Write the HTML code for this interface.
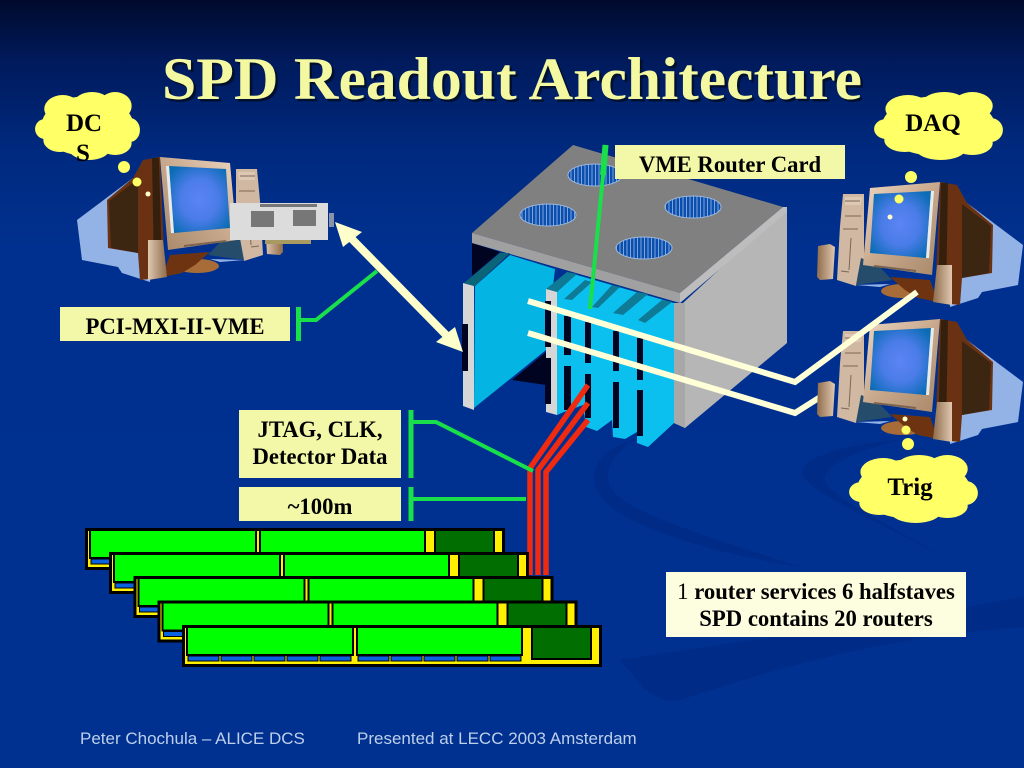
<!DOCTYPE html>
<html><head><meta charset="utf-8"><style>
html,body{margin:0;padding:0;background:#00308f}
svg{display:block}
.l{font-family:"Liberation Serif",serif;font-weight:bold;font-size:22.7px;fill:#000;text-anchor:middle}
.c{font-family:"Liberation Serif",serif;font-weight:bold;font-size:25px;fill:#000;text-anchor:middle}
.f{font-family:"Liberation Sans",sans-serif;font-size:17px;fill:#bcd0ea}
</style></head><body>
<svg width="1024" height="768" viewBox="0 0 1024 768" xmlns="http://www.w3.org/2000/svg">
<defs>
<linearGradient id="bg" x1="0" y1="0" x2="0" y2="1"><stop offset="0" stop-color="#000a2c"/><stop offset=".08" stop-color="#001a5c"/><stop offset=".2" stop-color="#002a80"/><stop offset=".32" stop-color="#00308f"/><stop offset="1" stop-color="#003090"/></linearGradient>
<radialGradient id="scr" cx=".5" cy=".5" r=".62"><stop offset="0" stop-color="#5c84f4"/><stop offset=".5" stop-color="#4a7ce8"/><stop offset="1" stop-color="#0a6cb4"/></radialGradient>
<linearGradient id="bez" x1="0" y1="0" x2="1" y2="1"><stop offset="0" stop-color="#ecd6c0"/><stop offset=".5" stop-color="#c8a88c"/><stop offset="1" stop-color="#a88868"/></linearGradient>
<linearGradient id="spk" x1="0" y1="0" x2="1" y2="0"><stop offset="0" stop-color="#8f6c4c"/><stop offset="1" stop-color="#e0c8b0"/></linearGradient>
<pattern id="st" width="3.5" height="4" patternUnits="userSpaceOnUse"><rect width="3.5" height="4" fill="#0a4fb0"/><rect width="1" height="4" fill="#7fa4d8"/></pattern>
<g id="mon">
<path d="M967 203L1023 245L1018 285L982 292L978 298L950 307L945 240Z" fill="#93b2e6"/>
<path d="M940 182L957 185L967 203L993 225L992 273L962 278L960 305L935 302Z" fill="#6a3213"/>
<path d="M941 183L948 183L946 300L938 300Z" fill="#35200e"/>
<path d="M962 204L991 226L989 273L962 278Z" fill="#3c2612"/>
<ellipse cx="903" cy="291" rx="22" ry="7" fill="#a86c38"/>
<path d="M890 277L930 280L938 302L918 298L905 290Z" fill="#6e3412"/>
<path d="M843 194L864 194L864 260L856 286L837 280L840 226Z" fill="#d0b8a2"/>
<path d="M845 197L862 197L861 205L845 205Z" fill="#dcc8b4"/>
<path d="M845 201L860 201M845 216L861 216M843 229L858 229M849 270L851 238M841 271L849 272" stroke="#7c6854" stroke-width="1" fill="none"/>
<path d="M861 258L878 265L892 280L856 285Z" fill="#264c6c"/>
<path d="M856 285L890 284L880 287Z" fill="#93b2e6"/>
<path d="M870 188L940 182L932 275L863 265Z" fill="url(#bez)"/>
<path d="M874 194L931 191L926 258L870 253Z" fill="url(#scr)"/>
<path d="M931 191L934 191L929 258L926 258Z" fill="#e6ecee"/>
<path d="M874 266L916 271" stroke="#7c6450" stroke-width="2" fill="none"/>
<path d="M818 246L830 244L835 247L833 279L820 280L817 277Z" fill="url(#spk)"/>
<path d="M937 265L952 265L952 305L933 302Z" fill="url(#spk)"/>
</g>
<g id="cl" fill="#ffff66">
<ellipse cx="0" cy="0" rx="50" ry="30"/><ellipse cx="-46" cy="3" rx="11" ry="10"/><ellipse cx="46" cy="4" rx="11" ry="12"/><ellipse cx="-27" cy="-17" rx="20" ry="14"/><ellipse cx="5" cy="-22" rx="20" ry="12"/><ellipse cx="30" cy="-20" rx="18" ry="14"/><ellipse cx="-30" cy="14" rx="18" ry="12"/><ellipse cx="2" cy="23" rx="22" ry="11"/><ellipse cx="30" cy="17" rx="18" ry="12"/>
</g>
<g id="stave">
<rect x="1.500" y="1.500" width="417" height="39" fill="#ffef00" stroke="#000" stroke-width="3"/>
<rect x="5" y="2" width="166" height="28" fill="#00ff00" stroke="#000" stroke-width="2"/>
<rect x="175" y="2" width="165" height="28" fill="#00ff00" stroke="#000" stroke-width="2"/>
<rect x="350" y="2" width="59" height="32" fill="#006e00" stroke="#000" stroke-width="2"/>
<g fill="#0a62e0" stroke="#000" stroke-width="1"><rect x="6" y="31" width="31" height="5"/><rect x="39" y="31" width="31" height="5"/><rect x="72" y="31" width="31" height="5"/><rect x="105" y="31" width="31" height="5"/><rect x="138" y="31" width="31" height="5"/><rect x="176" y="31" width="31" height="5"/><rect x="209" y="31" width="31" height="5"/><rect x="242" y="31" width="31" height="5"/><rect x="275" y="31" width="31" height="5"/><rect x="308" y="31" width="31" height="5"/></g>
</g>
</defs>

<rect width="1024" height="768" fill="url(#bg)"/>
<g fill="#002b86">
<path d="M640 437C600 450 585 470 600 495C620 525 700 550 800 567C720 540 630 515 612 490C600 470 615 450 640 437Z"/>
<path d="M900 440C830 445 800 462 802 474C810 495 900 530 960 567C900 530 835 500 825 482C820 465 860 450 900 440Z"/>
<path d="M620 660C750 640 900 620 1024 597L1024 627C900 635 800 660 680 700C650 705 640 680 620 660Z"/>
</g>

<text x="162" y="99" font-family="Liberation Serif,serif" font-weight="bold" font-size="60" fill="#00102e" textLength="700" lengthAdjust="spacingAndGlyphs" transform="translate(2.500,2.500)">SPD Readout Architecture</text>
<text x="162" y="99" font-family="Liberation Serif,serif" font-weight="bold" font-size="60" fill="#f4f8a0" textLength="700" lengthAdjust="spacingAndGlyphs">SPD Readout Architecture</text>

<!-- computers -->
<use href="#mon" transform="translate(1100,-25) scale(-1,1)"/>
<use href="#mon"/>

<!-- PCI card -->
<rect x="265" y="239" width="46" height="5" fill="#a89a60"/>
<rect x="230" y="203" width="98" height="37" fill="#dcdcdc"/>
<rect x="251" y="211" width="23" height="16" fill="#777"/><rect x="293" y="210" width="23" height="16" fill="#777"/>
<rect x="260" y="204" width="57" height="3" fill="#777"/><rect x="329" y="213" width="5" height="14" fill="#8a93a8"/>

<!-- clouds -->
<use href="#cl" transform="translate(87.500,126) scale(.92,1)"/>
<use href="#cl" transform="translate(938.500,126) scale(1.13,1)"/>
<use href="#cl" transform="translate(913.500,489) scale(1.13,1)"/>
<g fill="#ffff66"><circle cx="124" cy="167" r="6"/><circle cx="137" cy="182" r="4.500"/><circle cx="911" cy="177" r="6"/><circle cx="899" cy="199" r="4.500"/></g>
<g fill="#ffffcc"><circle cx="148" cy="194" r="2.500"/><circle cx="890" cy="217" r="2.500"/></g>
<text class="c" x="84" y="131">DC</text><text class="c" x="83" y="161">S</text>
<text class="c" x="933" y="131">DAQ</text><text class="c" x="910" y="495">Trig</text>

<!-- VME crate -->
<path d="M472 243L472 276L500 252Z" fill="#000420"/>
<path d="M512 380L546 352L546 385Z" fill="#000420"/>
<path d="M674 303L683 303L787 207L787 343L685 428L674 423Z" fill="#b6b6b6"/>
<path d="M674 303L685 303L685 428L674 423Z" fill="#a8a8a8"/>
<path d="M573 145L783 207L680 293L472 233Z" fill="#808080"/>
<path d="M472 233L680 293L680 303L472 243Z" fill="#a0a0a0"/>
<path d="M680 293L783 207L787 207L787 212L680 303Z" fill="#bdbdbd"/>
<g fill="url(#st)" stroke="#9db8dc" stroke-width="1"><ellipse cx="595" cy="175" rx="27" ry="11"/><ellipse cx="548" cy="215" rx="28" ry="11"/><ellipse cx="693" cy="207" rx="28" ry="11"/><ellipse cx="644" cy="248" rx="28" ry="11"/></g>

<!-- large card -->
<path d="M475 286L510 255L555 269L546 350L474 408Z" fill="#04b4e2"/>
<path d="M464 283L475 286L510 253L500 253Z" fill="#0c6478"/>
<path d="M463 283L474 286L474 410L463 406Z" fill="#d6d6d6"/>
<rect x="462" y="324" width="6" height="47" fill="#000420"/>
<!-- slot cards -->
<path d="M557 292L570 273L674 303L674 423L648 447L637 443L637 432L625 439L613 437L612 420L597 431L586 427L583 405L564 412L557 415Z" fill="#0bc0ee"/>
<path d="M546 289L567 272L577 274L557 292Z" fill="#0e7a96"/>
<path d="M564 299L585 280L592 282L572 300Z" fill="#0e7a96"/>
<path d="M592 307L612 285L620 287L598 308Z" fill="#0e7a96"/>
<path d="M613 313L637 292L648 294L623 315Z" fill="#0e7a96"/>
<path d="M638 320L662 300L672 302L645 323Z" fill="#0e7a96"/>
<path d="M546 289L557 292L557 415L546 412Z" fill="#d6d6d6"/>
<g fill="#000420">
<path d="M545 301H551V347H545ZM545 358H551V404H545Z"/>
<path d="M564 316H571V355H564ZM564 366H571V410H564Z"/>
<path d="M585 322H591V363H585ZM585 374H591V418H585Z"/>
<path d="M613 331H619V371H613ZM613 382H619V428H613Z"/>
<path d="M637 338H643V380H637ZM637 390H643V436H637Z"/>
</g>

<!-- red cables -->
<g fill="none" stroke="#f02a10" stroke-width="5.500">
<path d="M588 385L530 468V575"/><path d="M588 403L538 470V575"/><path d="M588 420L546 472V575"/>
</g>

<!-- staves -->
<use href="#stave" transform="translate(85,528)"/>
<use href="#stave" transform="translate(109,552)"/>
<use href="#stave" transform="translate(133.500,576)"/>
<use href="#stave" transform="translate(157.500,600.500)"/>
<use href="#stave" transform="translate(182,625)"/>

<!-- lower cream line, then lower monitor over it -->
<path d="M528 333L795 413L825 394" fill="none" stroke="#ffffd8" stroke-width="6"/>
<use href="#mon" transform="translate(0,137)"/>
<g fill="#ffff66"><circle cx="908" cy="444" r="6"/><circle cx="906" cy="430" r="4.500"/></g>
<circle cx="905" cy="419" r="2.500" fill="#ffffcc"/>

<!-- cream lines -->
<path d="M528 301L795 382L917 292" fill="none" stroke="#ffffd8" stroke-width="6"/>
<path d="M348 235L450 339" stroke="#ffffcc" stroke-width="8" fill="none"/>
<path d="M335 222L362 232L343 247Z" fill="#ffffcc"/>
<path d="M463 352L436 342L455 327Z" fill="#ffffcc"/>

<!-- green connectors -->
<g fill="none" stroke="#19e04a">
<path d="M606 145L590 309" stroke-width="4"/>
<path d="M298.500 307V341M411 410V478M411 487V521" stroke-width="5"/>
<path d="M299 320H316L377 271" stroke-width="4"/>
<path d="M411 422H436L533 471" stroke-width="4"/>
<path d="M411 499H526" stroke-width="4"/>
</g>

<!-- labels -->
<g fill="#f2f8a8">
<rect x="60" y="307" width="230" height="34"/><rect x="615" y="145" width="230" height="34"/>
<rect x="239" y="410" width="162" height="68"/><rect x="239" y="487" width="162" height="34"/>
</g>
<rect x="666" y="572" width="300" height="65" fill="#fdfde0"/>
<path d="M605.500 145L603 175" stroke="#19e04a" stroke-width="6"/>
<text class="l" x="175" y="334">PCI-MXI-II-VME</text>
<text class="l" x="730" y="172">VME Router Card</text>
<text class="l" x="320" y="437">JTAG, CLK,</text>
<text class="l" x="320" y="464">Detector Data</text>
<text class="l" x="320" y="514">~100m</text>
<text class="l" x="816" y="599"><tspan font-weight="normal">1 </tspan>router services 6 halfstaves</text>
<text class="l" x="816" y="626">SPD contains 20 routers</text>

<text class="f" x="80" y="744">Peter Chochula – ALICE DCS</text>
<text class="f" x="357" y="744">Presented at LECC 2003 Amsterdam</text>
</svg>
</body></html>
